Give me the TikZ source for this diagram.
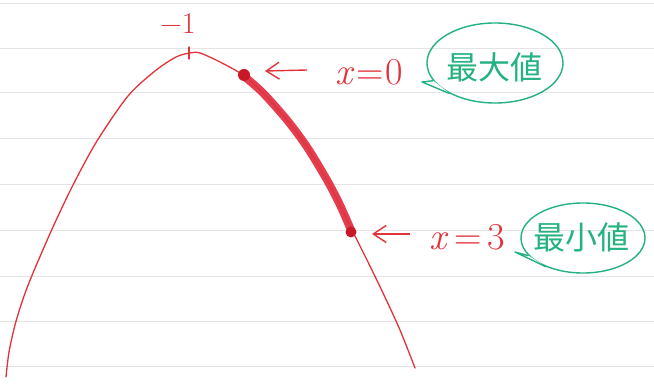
\documentclass[tikz,border=0pt]{standalone}
\usepackage{fontspec}
\newfontfamily\cjk{Noto Sans CJK JP}
\usetikzlibrary{arrows.meta,shapes.geometric}
\definecolor{pen}{RGB}{226,50,58}
\definecolor{hilite}{RGB}{226,62,80}
\definecolor{dotred}{RGB}{200,24,40}
\definecolor{grn}{RGB}{36,178,128}
\definecolor{ruleline}{RGB}{228,228,228}
\tikzset{
  curve/.style={pen, line width=1.3pt, line cap=round, line join=round},
  hlseg/.style={hilite, line width=8pt, line cap=round, line join=round},
  redlabel/.style={text=pen, inner sep=0pt, font=\fontsize{38}{38}\selectfont},
  bubble/.style={draw=grn, line width=1.4pt, ellipse, inner sep=0pt},
  bubbletext/.style={text=grn, inner sep=0pt, font=\cjk\fontsize{32}{32}\selectfont},
  pointer/.style={pen, line width=1.4pt, -{Straight Barb[length=13pt,width=17pt,line width=1.4pt]}},
  tail/.style={grn, line width=1.4pt, line join=round}
}
\begin{document}
\begin{tikzpicture}[x=1pt,y=-1pt]
\useasboundingbox (0,0) rectangle (654,387);
\fill[white] (0,0) rectangle (654,387);
% ruled paper
\foreach \yy in {3,48,92,138,184,230,276,321,366}
  \draw[ruleline, line width=0.9pt] (0,\yy) -- (654,\yy);
% highlighted part (under the curve)
\draw[hlseg] plot[smooth] coordinates {(245,77) (263,93) (287,120) (307,147) (327,180) (340,205) (351,230)};
% parabola
\draw[curve] plot[smooth] coordinates {(6,377) (9,352) (15,325) (23,299) (33,273) (53,227) (73,185) (97,141) (128,96) (155,71) (176,57) (190,53) (200,53) (220,62) (243,75) (263,93) (287,120) (307,147) (327,180) (340,205) (352,230) (367,260) (383,293) (400,330) (415,368)};
\coordinate (dot0) at (244,75);
\coordinate (dot3) at (351,232);
\fill[dotred] (dot0) circle (6);
\fill[dotred] (dot3) circle (5.5);
% apex tick and label
\coordinate (apex) at (189,53);
\draw[curve] ([yshift=-6]apex) -- ([yshift=6]apex);
\node[text=pen, inner sep=0pt, font=\fontsize{30}{30}\selectfont] (minus1) at (178,24) {−1};
% x = 0
\node[redlabel] (lab0) at (369,72) {\textit{x}\kern2pt=\kern2pt0};
\coordinate (a0s) at (307,70);
\coordinate (a0e) at (265,71);
\draw[pointer] (a0s) -- (a0e);
% x = 3
\node[redlabel] (lab3) at (467,237) {\textit{x}\kern6pt=\kern6pt3};
\coordinate (a3s) at (410,234);
\coordinate (a3e) at (372,234);
\draw[pointer] (a3s) -- (a3e);
% bubbles
\node[bubble, minimum width=136pt, minimum height=80pt] (b0) at (495,63) {};
\node[bubbletext] (t0) at (494,67) {最大値};
\coordinate (tip0) at (422,82);
\fill[white] (b0.196) -- (tip0) -- (b0.214) -- cycle;
\draw[tail] (b0.196) -- (tip0) -- (b0.214);
\node[bubble, minimum width=124pt, minimum height=70pt] (b3) at (583,238) {};
\node[bubbletext] (t3) at (581,237) {最小値};
\coordinate (tip3) at (515,252);
\fill[white] (b3.198) -- (tip3) -- (b3.218) -- cycle;
\draw[tail] (b3.198) -- (tip3) -- (b3.218);
\end{tikzpicture}
\end{document}
